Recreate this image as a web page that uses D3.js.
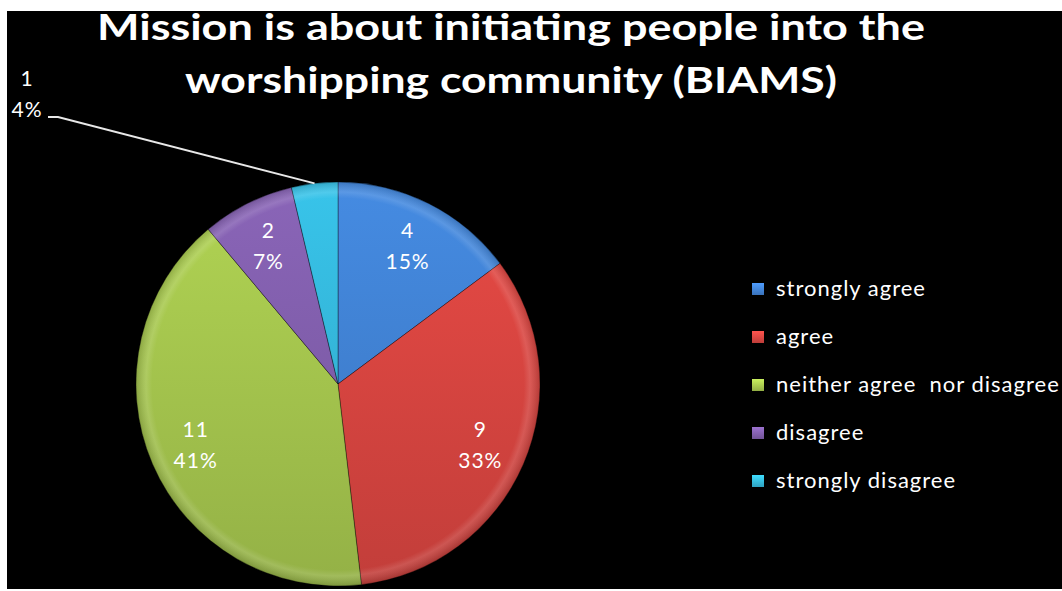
<!DOCTYPE html>
<html><head><meta charset="utf-8">
<script src="https://cdn.jsdelivr.net/npm/d3@7/dist/d3.min.js"></script>
<style>html,body{margin:0;padding:0;background:#fff;}svg{display:block;}</style>
</head><body>
<svg id="chart" width="1062" height="591"></svg>
<script>
const titleLines = ["Mission is about initiating people into the", "worshipping community (BIAMS)"];
const categories = ["strongly agree", "agree", "neither agree  nor disagree", "disagree", "strongly disagree"];
const counts = [4, 9, 11, 2, 1];
const colors = ["#3F7FCF", "#D4443F", "#A2C24C", "#7E5CA8", "#33B3D6"];

const svg = d3.select("#chart");
const W = 1062, H = 591;
const defs = svg.append("defs");

svg.append("rect").attr("x", 7).attr("y", 11).attr("width", W - 7).attr("height", 578).attr("fill", "#000");

// title
svg.append("g").selectAll("text").data(titleLines).join("text")
  .attr("x", 511).attr("y", (d, i) => 40 + i * 53)
  .attr("text-anchor", "middle")
  .attr("fill", "#fff")
  .attr("font-family", "Lato, 'Open Sans', sans-serif")
  .attr("font-weight", "bold")
  .attr("font-size", 37)
  .attr("textLength", (d, i) => i === 0 ? 828 : 652)
  .attr("lengthAdjust", "spacingAndGlyphs")
  .text(d => d);

// pie
const cx = 338, cy = 384, R = 202;
const total = d3.sum(counts);
const pie = d3.pie().sort(null).value(d => d)(counts);
const arc = d3.arc().innerRadius(0).outerRadius(R);
const labelArc = d3.arc().innerRadius(155).outerRadius(155);
const g = svg.append("g").attr("transform", `translate(${cx},${cy})`);

colors.forEach((c, i) => {
  const lg = defs.append("linearGradient").attr("id", "grad" + i)
    .attr("gradientUnits", "userSpaceOnUse")
    .attr("x1", 0).attr("y1", -R).attr("x2", 0).attr("y2", R);
  lg.append("stop").attr("offset", "0%").attr("stop-color", d3.color(c).brighter(0.25));
  lg.append("stop").attr("offset", "100%").attr("stop-color", d3.color(c).darker(0.25));
});
const rg = defs.append("radialGradient").attr("id", "rim")
  .attr("gradientUnits", "userSpaceOnUse").attr("cx", 0).attr("cy", 0).attr("r", R);
rg.append("stop").attr("offset", "0%").attr("stop-color", "#fff").attr("stop-opacity", 0);
rg.append("stop").attr("offset", "92%").attr("stop-color", "#fff").attr("stop-opacity", 0);
rg.append("stop").attr("offset", "95%").attr("stop-color", "#fff").attr("stop-opacity", 0.12);
rg.append("stop").attr("offset", "100%").attr("stop-color", "#000").attr("stop-opacity", 0.15);

g.selectAll("path.slice").data(pie).join("path")
  .attr("class", "slice")
  .attr("d", arc)
  .attr("fill", (d, i) => `url(#grad${i})`)
  .attr("stroke", "rgba(0,0,0,0.35)")
  .attr("stroke-width", 1);
g.selectAll("path.rim").data(pie).join("path")
  .attr("class", "rim")
  .attr("d", arc)
  .attr("fill", "url(#rim)");

const fmtPct = v => Math.round(v / total * 100) + "%";
const labelFont = "Lato, 'Open Sans', sans-serif";
// inside labels
const inside = pie.filter(d => d.data / total > 0.05);
inside.forEach(d => {
  const [lx, ly] = labelArc.centroid(d);
  const t = g.append("text").attr("text-anchor", "middle")
    .attr("fill", "#fff").attr("font-family", labelFont).attr("font-size", 21)
    .attr("letter-spacing", 1);
  t.append("tspan").attr("x", lx).attr("y", ly - 8).text(d.data);
  t.append("tspan").attr("x", lx).attr("y", ly + 23).text(fmtPct(d.data));
});
// outside label with leader line
const outside = pie.filter(d => d.data / total <= 0.05);
outside.forEach(d => {
  const edge = d3.arc().innerRadius(R).outerRadius(R).centroid(d);
  const ax = edge[0] + cx, ay = edge[1] + cy;
  const tx = 48, ty = 117;
  svg.append("polyline")
    .attr("points", `${tx},${ty} ${tx + 10},${ty} ${ax},${ay}`)
    .attr("fill", "none").attr("stroke", "#e8e8e8").attr("stroke-width", 2);
  const t = svg.append("text").attr("text-anchor", "middle")
    .attr("fill", "#fff").attr("font-family", labelFont).attr("font-size", 21)
    .attr("letter-spacing", 1);
  t.append("tspan").attr("x", 27).attr("y", 86).text(d.data);
  t.append("tspan").attr("x", 27).attr("y", 117).text(fmtPct(d.data));
});

// legend
colors.forEach((c, i) => {
  const lg = defs.append("linearGradient").attr("id", "lgrad" + i)
    .attr("x1", 0).attr("y1", 0).attr("x2", 0).attr("y2", 1);
  lg.append("stop").attr("offset", "0%").attr("stop-color", d3.color(c).brighter(0.6));
  lg.append("stop").attr("offset", "100%").attr("stop-color", d3.color(c).darker(0.3));
});
const leg = svg.append("g").attr("transform", "translate(752,289)");
const rows = leg.selectAll("g").data(categories).join("g")
  .attr("transform", (d, i) => `translate(0,${i * 48})`);
rows.append("rect").attr("x", 0).attr("y", -6).attr("width", 12).attr("height", 12)
  .attr("fill", (d, i) => `url(#lgrad${i})`);
rows.append("text").attr("x", 24).attr("y", 7)
  .attr("fill", "#fff").attr("font-family", labelFont).attr("font-size", 22)
  .attr("letter-spacing", 1)
  .style("white-space", "pre")
  .text(d => d);
</script>
</body></html>
